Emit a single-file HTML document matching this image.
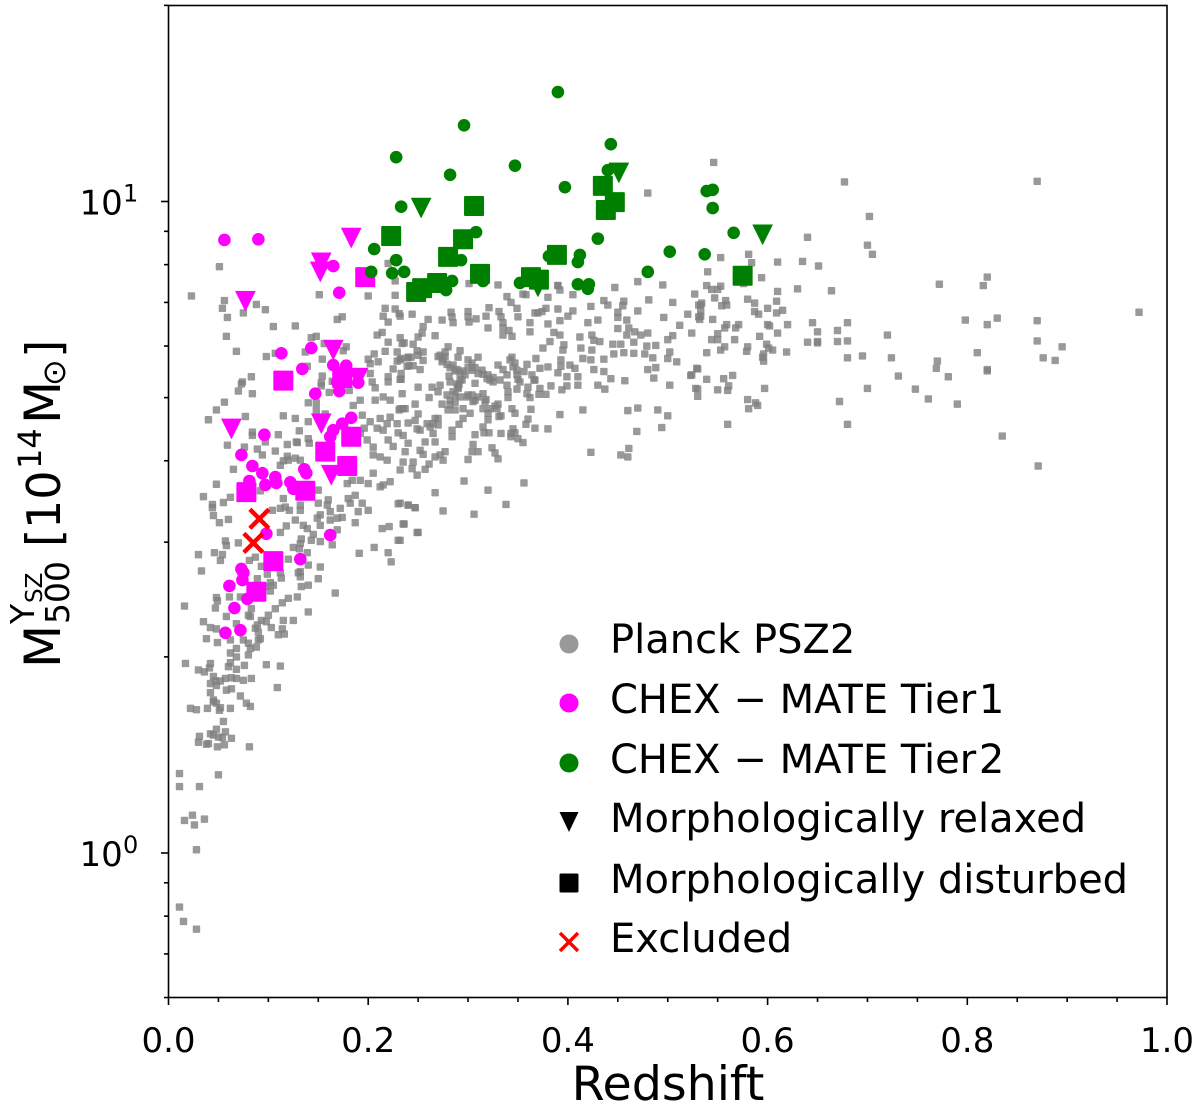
<!DOCTYPE html>
<html lang="en">
<head>
<meta charset="utf-8">
<title>CHEX-MATE mass vs redshift</title>
<style>
html,body{margin:0;padding:0;background:#fff;width:1200px;height:1112px;overflow:hidden}
svg{display:block}
text{font-family:"DejaVu Sans","Liberation Sans",sans-serif;fill:#000}
</style>
</head>
<body>
<svg id="chart" xmlns="http://www.w3.org/2000/svg" width="1200" height="1112" viewBox="0 0 1200 1112">
<g id="marks"></g>
<rect x="168.5" y="5.5" width="998.5" height="992" fill="none" stroke="#000" stroke-width="1.6"/>
<g id="ticks"></g>
<text x="668" y="1100" font-size="47.5" text-anchor="middle">Redshift</text>
<g transform="translate(60,665) rotate(-90)">
<text x="-3" y="0" font-size="50">M</text>
<text x="41" y="9" font-size="33">500</text>
<text x="41" y="-26" font-size="33">Y</text>
<text x="62" y="-18" font-size="23">SZ</text>
<text x="118" y="0" font-size="47">[</text>
<text x="136" y="0" font-size="46">10</text>
<text x="196" y="-19" font-size="32">14</text>
<text x="241" y="0" font-size="50">M</text>
<text x="279" y="5" font-size="32">⊙</text>
<text x="307" y="0" font-size="47">]</text>
</g>
<g>
<circle cx="569" cy="644" r="9.5" fill="#999"/>
<text x="610" y="653" font-size="40">Planck PSZ2</text>
<circle cx="569" cy="703" r="9.5" fill="#f0f"/>
<text x="610" y="713" font-size="40">CHEX − MATE Tier<tspan dx="-10"> 1</tspan></text>
<circle cx="569" cy="763" r="9.5" fill="#008000"/>
<text x="610" y="773" font-size="40">CHEX − MATE Tier<tspan dx="-10"> 2</tspan></text>
<polygon points="559.5,812 578.5,812 569,832" fill="#000"/>
<text x="610" y="832" font-size="40">Morphologically relaxed</text>
<rect x="559.5" y="873.5" width="19" height="19" rx="1.5" fill="#000"/>
<text x="610" y="893" font-size="40">Morphologically disturbed</text>
<path d="M560 933 L578 951 M578 933 L560 951" stroke="#f00" stroke-width="3.4" fill="none"/>
<text x="610" y="952" font-size="40">Excluded</text>
</g>
</svg>
<script>
// Values: [redshift, log10(M500 / 1e14 Msun)]
const xMajorTicks = [0, 0.2, 0.4, 0.6, 0.8, 1.0];
const xTickLabels = ["0.0", "0.2", "0.4", "0.6", "0.8", "1.0"];
const xMinorTicks = [0.05,0.1,0.15,0.25,0.3,0.35,0.45,0.5,0.55,0.65,0.7,0.75,0.85,0.9,0.95];
const yMajorExponents = [0, 1];
const yMinorTicks = [0.6,0.7,0.8,0.9,2,3,4,5,6,7,8,9,20];

const planckPSZ2 = [
[.244,.827],[.260,.819],[.274,.818],[.283,.830],[.284,.823],[.285,.814],[.300,.831],[.300,.823],[.301,.815],[.308,.820],[.318,.824],[.321,.837],[.331,.831],[.333,.823],[.335,.814],[.320,.806],[.335,.806],[.341,.802],[.344,.793],[.335,.795],[.350,.823],[.349,.836],[.339,.854],[.343,.845],[.355,.858],[.358,.857],[.362,.814],[.362,.800],[.367,.829],[.370,.829],[.374,.831],[.378,.836],[.380,.812],[.392,.817],[.390,.835],[.400,.824],[.405,.832],[.405,.857],[.392,.864],[.390,.871],[.380,.853],[.423,.839],[.420,.814],[.430,.818],[.436,.848],[.440,.841],[.456,.847],[.455,.840],[.450,.830],[.450,.822],[.459,.818],[.470,.832],[.481,.849],[.505,.845],[.496,.822],[.520,.827],[.512,.810],[.524,.798],[.505,.794],[.500,.788],[.450,.805],[.461,.806],[.459,.795],[.467,.800],[.473,.795],[.480,.798],[.466,.784],[.479,.778],[.488,.779],[.477,.766],[.485,.760],[.502,.769],[.500,.759],[.509,.754],[.466,.767],[.456,.768],[.446,.766],[.445,.781],[.453,.781],[.436,.758],[.426,.742],[.436,.739],[.443,.728],[.457,.725],[.430,.718],[.437,.712],[.480,.742],[.488,.745],[.486,.729],[.502,.718],[.524,.734],[.529,.744],[.528,.713],[.530,.701],[.460,.679],[.470,.683],[.490,.680],[.500,.671],[.494,.653],[.469,.647],[.415,.680],[.392,.673],[.380,.651],[.367,.652],[.363,.681],[.360,.666],[.358,.658],[.347,.675],[.344,.682],[.333,.671],[.331,.670],[.320,.665],[.315,.654],[.316,.645],[.307,.642],[.305,.627],[.304,.616],[.310,.616],[.324,.622],[.327,.614],[.330,.605],[.300,.604],[.321,.645],[.333,.644],[.343,.639],[.345,.651],[.350,.636],[.355,.630],[.343,.644],[.347,.645],[.423,.615],[.453,.611],[.460,.608],[.461,.621],
[.267,.794],[.255,.808],[.254,.798],[.245,.781],[.250,.792],[.249,.771],[.255,.769],[.255,.756],[.250,.764],[.240,.761],[.239,.747],[.252,.742],[.234,.782],[.232,.757],[.236,.783],
[.280,.777],[.277,.769],[.270,.762],[.274,.754],[.279,.750],[.282,.745],[.287,.740],[.292,.737],[.297,.734],[.300,.757],[.304,.752],[.310,.761],[.307,.745],[.314,.741],[.320,.734],[.325,.730],[.330,.749],[.335,.742],[.344,.761],[.347,.752],[.349,.741],[.350,.727],[.356,.739],[.359,.750],[.366,.726],[.368,.759],[.372,.744],[.380,.746],[.375,.775],[.382,.785],[.386,.799],[.392,.795],[.395,.772],[.396,.780],[.393,.757],[.393,.747],[.402,.749],[.407,.744],[.410,.731],[.410,.718],[.399,.717],[.394,.711],[.383,.717],[.390,.737],[.399,.731],[.412,.792],[.413,.775],[.415,.759],[.424,.772],[.423,.757],[.432,.785],[.424,.795],[.426,.787],
[.292,.771],[.290,.761],[.277,.762],[.281,.732],[.291,.719],[.290,.713],
[.282,.723],[.294,.726],[.290,.715],[.285,.708],[.272,.718],[.264,.715],[.250,.715],[.261,.699],[.270,.708],[.274,.689],[.282,.695],[.287,.692],[.292,.700],[.300,.703],[.307,.695],[.315,.705],[.318,.696],[.327,.686],[.330,.689],[.339,.718],[.340,.708],[.340,.699],[.349,.712],[.360,.715],[.359,.705],[.362,.699],[.372,.713],[.371,.704],[.378,.704],[.322,.726],[.307,.721],[.280,.680],[.287,.680],[.295,.682],[.302,.675],[.295,.667],[.291,.658],[.315,.682],[.320,.675],[.234,.705],[.232,.727],[.235,.682],[.247,.689],[.250,.674],[.247,.664],[.252,.649],[.259,.659],[.267,.667],[.270,.657],[.265,.644],[.257,.631],[.267,.631],[.284,.649],[.284,.639],[.277,.616],[.272,.611],[.267,.608],[.275,.603],[.261,.597],[.257,.589],[.245,.600],[.244,.590],[.252,.618],[.255,.612],[.235,.641],[.240,.629],[.237,.616],[.235,.600],
[.272,.764],[.275,.758],[.285,.749],[.289,.742],[.295,.740],[.300,.745],[.304,.741],[.310,.736],[.315,.735],[.319,.728],[.325,.723],[.332,.726],[.339,.734],[.345,.746],[.342,.757],[.349,.734],[.352,.723],[.364,.734],[.367,.726],[.292,.726],[.289,.720],[.279,.703],[.287,.703],[.299,.700],[.304,.703],[.310,.700],[.317,.693],[.322,.682],[.329,.682],[.305,.693],[.282,.688],[.262,.654],[.265,.659],[.270,.667],
[.301,.874],[.330,.872],[.390,.871],[.447,.868],[.470,.877],[.495,.872],[.527,.858],[.531,.841],[.531,.823],
[.296,.571],[.356,.568],[.267,.553],[.320,.557],[.338,.535],[.240,.534],[.247,.530],[.275,.525],[.306,.520],[.235,.505],[.250,.492],[.232,.480],[.232,.537],
[.546,1.060],[.480,1.013],[.677,1.030],[.702,.977],[.640,.945],[.705,.919],[.700,.933],[.581,.919],[.553,.914],[.584,.906],[.610,.907],[.635,.908],[.651,.901],[.540,.892],[.594,.883],[.576,.874],[.539,.871],[.544,.865],[.550,.865],[.553,.870],[.610,.862],[.630,.866],[.664,.863],[.547,.852],[.534,.844],[.533,.841],[.558,.848],[.554,.840],[.559,.841],[.580,.850],[.587,.844],[.609,.847],[.600,.836],[.615,.833],[.609,.829],[.587,.831],[.591,.827],[.533,.832],[.533,.824],[.532,.819],[.545,.819],[.559,.811],[.557,.806],[.571,.811],[.568,.806],[.600,.811],[.602,.809],[.620,.811],[.645,.814],[.680,.814],[.610,.798],[.650,.800],[.670,.802],[.650,.783],[.650,.785],[.550,.797],[.544,.788],[.550,.788],[.567,.788],[.557,.777],[.592,.793],[.599,.781],[.601,.775],[.605,.772],[.640,.784],[.670,.785],[.680,.786],[.720,.795],[.580,.777],[.579,.770],[.553,.772],[.539,.768],[.596,.766],[.596,.755],[.619,.769],[.595,.761],[.556,.728],[.565,.733],[.680,.760],[.695,.763],[.724,.760],[.530,.743],[.523,.733],[.539,.727],[.731,.732],[.561,.717],[.560,.710],[.550,.711],[.530,.712],[.597,.713],[.700,.713],[.748,.712],[.761,.697],[.580,.696],[.588,.691],[.590,.687],[.581,.682],[.672,.693],[.560,.658],[.680,.658],
[.870,1.031],[.820,.884],[.816,.871],[.772,.873],[.798,.818],[.820,.811],[.830,.821],[.870,.817],[.972,.830],[.870,.786],[.895,.777],[.876,.760],[.888,.756],[.810,.768],[.770,.755],[.769,.744],[.781,.731],[.820,.742],[.820,.740],[.790,.689],[.835,.640],[.871,.594],
[.051,.900],[.023,.855],[.056,.848],[.054,.836],[.059,.822],[.075,.829],[.088,.842],[.097,.834],[.151,.857],[.200,.855],[.227,.856],[.220,.905],[.227,.878],[.105,.808],[.127,.809],[.169,.819],[.174,.823],[.217,.836],[.227,.835],[.215,.824],[.220,.815],[.231,.828],[.232,.824],[.058,.793],[.068,.770],[.098,.762],[.107,.767],[.137,.769],[.143,.791],[.148,.793],[.156,.782],[.178,.777],[.175,.771],[.209,.795],[.214,.799],[.220,.784],[.232,.791],[.229,.769],[.217,.770],[.206,.766],[.200,.758],[.202,.751],[.210,.754],[.154,.758],[.139,.747],[.154,.732],[.153,.722],[.153,.717],[.164,.724],[.161,.707],[.181,.710],[.202,.736],[.204,.723],[.207,.714],[.220,.731],[.220,.723],[.233,.727],[.225,.743],[.229,.755],[.233,.759],[.233,.736],[.241,.748],[.240,.760],[.245,.748],[.243,.761],[.083,.731],[.074,.723],[.073,.720],[.070,.709],[.084,.705],[.056,.692],[.048,.680],[.040,.665],[.077,.670],[.115,.671],[.127,.667],[.140,.691],[.148,.691],[.148,.680],[.140,.662],[.157,.674],[.185,.687],[.192,.695],[.207,.695],[.215,.700],[.222,.695],[.232,.682],[.237,.682],[.194,.672],[.202,.662],[.212,.667],[.219,.659],[.222,.669],[.231,.680],[.209,.652],[.215,.649],[.229,.659],[.240,.660],[.249,.651],[.084,.646],[.084,.641],[.110,.642],[.131,.648],[.140,.636],[.128,.631],[.097,.631],[.199,.634],[.205,.623],[.220,.634],[.192,.644],[.196,.652],[.179,.649],[.230,.645],
[.059,.626],[.076,.623],[.089,.620],[.107,.617],[.119,.627],[.129,.630],[.141,.629],[.094,.611],[.119,.609],[.112,.595],[.115,.602],[.120,.603],[.127,.606],[.132,.603],[.065,.589],[.048,.566],[.035,.547],[.055,.538],[.062,.546],[.044,.535],[.044,.530],[.045,.518],[.051,.507],[.060,.512],[.092,.556],[.115,.544],[.104,.526],[.112,.529],[.117,.531],[.121,.526],[.132,.534],[.132,.526],[.150,.557],[.150,.537],[.160,.542],[.159,.534],[.152,.519],[.149,.514],[.152,.503],[.162,.511],[.172,.529],[.174,.515],[.169,.514],[.180,.544],[.187,.549],[.182,.537],[.194,.537],[.200,.526],[.190,.524],[.187,.507],[.127,.511],[.135,.503],[.118,.502],[.112,.492],[.139,.498],[.145,.489],[.143,.480],[.133,.482],[.132,.475],[.152,.478],[.164,.473],[.162,.524],[.169,.496],[.057,.479],[.058,.472],[.070,.476],[.046,.461],[.054,.458],[.052,.449],[.030,.458],[.033,.433],[.087,.454],[.081,.449],[.093,.440],[.125,.469],[.139,.461],[.131,.467],[.120,.451],[.140,.442],[.132,.432],[.130,.430],[.152,.439],[.132,.424],[.150,.421],[.140,.411],[.133,.409],[.113,.422],[.112,.430],[.099,.428],[.089,.421],[.105,.411],[.102,.415],[.098,.409],[.102,.402],[.129,.393],[.120,.391],[.114,.384],[.107,.375],[.100,.365],[.140,.370],[.167,.399],[.115,.357],[.125,.357],[.114,.344],[.116,.336],[.110,.335],[.103,.346],[.098,.355],[.093,.357],[.089,.350],[.090,.339],[.087,.345],[.092,.329],[.080,.365],[.083,.375],[.082,.363],[.072,.393],[.061,.393],[.048,.392],[.049,.387],[.047,.376],[.016,.379],[.035,.355],[.042,.346],[.048,.344],[.058,.363],[.038,.329],[.049,.323],[.062,.327],[.068,.352],[.075,.327],[.080,.322],[.082,.314],[.088,.316],[.068,.314],[.062,.307],[.068,.301],[.080,.304],[.017,.291],[.030,.281],[.036,.278],[.042,.291],[.041,.284],[.060,.286],[.062,.292],[.068,.282],[.076,.288],[.098,.289],[.112,.287],[.109,.254],[.083,.268],[.075,.265],[.068,.268],[.063,.269],[.057,.268],[.052,.264],[.045,.271],[.042,.260],[.047,.264],[.048,.257],[.058,.250],[.063,.252],[.042,.246],[.072,.241],[.045,.235],[.090,.327],[.191,.460],[.206,.469],[.214,.498],[.221,.501],[.236,.505],[.249,.492],[.230,.480],[.220,.461],[.223,.447],[.240,.534],[.247,.530],[.230,.536],
[.205,.611],[.212,.608],[.225,.624],[.219,.603],[.205,.583],[.215,.565],[.192,.572],[.200,.567],[.212,.562],[.222,.570],[.232,.588],[.249,.580],[.179,.567],[.184,.572],
[.022,.222],[.028,.220],[.039,.222],[.051,.219],[.052,.223],[.045,.232],[.048,.230],[.062,.222],[.078,.230],[.082,.225],[.055,.202],[.048,.190],[.057,.186],[.042,.183],[.031,.179],[.030,.170],[.040,.168],[.045,.181],[.050,.178],[.054,.177],[.063,.176],[.056,.166],[.049,.163],[.038,.167],[.081,.163],
[.011,.122],[.050,.120],[.011,.102],[.031,.102],[.024,.058],[.016,.050],[.036,.052],[.026,.043],[.028,.005],[.011,-.083],[.015,-.105],[.028,-.117]
];
const tier1Circles = [
[.056,.941],[.090,.942],[.165,.901],[.171,.860],[.113,.767],[.143,.775],[.134,.743],[.165,.749],[.178,.748],[.190,.722],[.171,.709],[.147,.705],[.183,.668],[.174,.659],[.096,.642],[.073,.611],[.172,.737],[.169,.723],[.165,.649],[.162,.639],[.084,.594],[.094,.583],[.107,.577],[.108,.568],[.097,.565],[.081,.571],[.122,.569],[.136,.589],[.138,.583],[.125,.559],[.098,.490],[.162,.488],[.132,.451],[.073,.436],[.075,.430],[.074,.419],[.061,.410],[.079,.390],[.066,.376],[.057,.338],[.072,.342]
];
const tier1Relaxed = [
[.183,.944],[.153,.906],[.152,.892],[.077,.847],[.165,.772],[.190,.729],[.153,.659],[.063,.651],[.163,.580]
];
const tier1Disturbed = [
[.197,.884],[.115,.725],[.183,.639],[.157,.616],[.174,.729],[.179,.594],[.078,.554],[.137,.556],[.105,.448],[.088,.401]
];
const tier2Circles = [
[.390,1.168],[.296,1.117],[.228,1.068],[.443,1.088],[.347,1.055],[.282,1.041],[.397,1.022],[.440,1.048],[.233,.992],[.430,.943],[.308,.953],[.206,.927],[.228,.910],[.224,.890],[.236,.892],[.203,.892],[.293,.910],[.412,.918],[.410,.907],[.381,.916],[.284,.878],[.278,.864],[.315,.878],[.352,.875],[.410,.873],[.421,.873],[.420,.866],[.545,1.018],[.539,1.016],[.545,.990],[.566,.952],[.502,.923],[.537,.919],[.480,.892]
];
const tier2Relaxed = [
[.253,.990],[.451,1.044],[.370,.869],[.595,.949]
];
const tier2Disturbed = [
[.306,.993],[.223,.947],[.295,.942],[.280,.915],[.389,.918],[.312,.889],[.435,1.024],[.447,.999],[.438,.987],[.363,.884],[.371,.880],[.269,.875],[.254,.867],[.248,.861],[.575,.886]
];
const excludedClusters = [[.091,.513],[.085,.476]];

const NS = "http://www.w3.org/2000/svg";
const xAxis = z => 168.5 + z * 998.5;
const yAxis = logM => 853 - logM * 651.5;
const marks = document.getElementById("marks");
const ticks = document.getElementById("ticks");

function make(tag, attrs, parent) {
  const el = document.createElementNS(NS, tag);
  for (const k in attrs) el.setAttribute(k, attrs[k]);
  parent.appendChild(el);
  return el;
}
function drawPlanck(point) {
  const el = make("rect", {x: xAxis(point[0]) - 3.7, y: yAxis(point[1]) - 3.7, width: 7.4, height: 7.4, rx: 0.8, fill: "#808080", "fill-opacity": 0.8}, marks);
  
  
}
function drawCircle(point, color, name) {
  const el = make("circle", {cx: xAxis(point[0]), cy: yAxis(point[1]), r: 6.3, fill: color}, marks);
  
  
}
function drawTriangle(point, color, name) {
  const x = xAxis(point[0]), y = yAxis(point[1]);
  const el = make("polygon", {points: [x - 10, y - 10, x + 10, y - 10, x, y + 10].join(" "), fill: color, stroke: color, "stroke-width": 0.5, "stroke-linejoin": "round"}, marks);
  
  
}
function drawSquare(point, color, name) {
  const el = make("rect", {x: xAxis(point[0]) - 10, y: yAxis(point[1]) - 10, width: 20, height: 20, rx: 1, fill: color}, marks);
  
  
}
function drawCross(point) {
  const x = xAxis(point[0]), y = yAxis(point[1]);
  const el = make("path", {d: `M${x - 9.5} ${y - 9.5} L${x + 9.5} ${y + 9.5} M${x + 9.5} ${y - 9.5} L${x - 9.5} ${y + 9.5}`, stroke: "#f00", "stroke-width": 4.4, fill: "none"}, marks);
  
  
}
planckPSZ2.forEach(drawPlanck);
tier1Circles.forEach(p => drawCircle(p, "#f0f", "tier1-circle"));
tier1Relaxed.forEach(p => drawTriangle(p, "#f0f", "tier1-relaxed-triangle"));
tier1Disturbed.forEach(p => drawSquare(p, "#f0f", "tier1-disturbed-square"));
tier2Circles.forEach(p => drawCircle(p, "#008000", "tier2-circle"));
tier2Relaxed.forEach(p => drawTriangle(p, "#008000", "tier2-relaxed-triangle"));
tier2Disturbed.forEach(p => drawSquare(p, "#008000", "tier2-disturbed-square"));
excludedClusters.forEach(drawCross);

function tickLine(x1, y1, x2, y2, name) {
  const el = make("line", {x1, y1, x2, y2, stroke: "#000", "stroke-width": 1.6}, ticks);
  
  
}
xMajorTicks.forEach((v, i) => {
  tickLine(xAxis(v), 997.5, xAxis(v), 1005, 'x-major-tick');
  const label = make("text", {x: xAxis(v), y: 1052, "font-size": 34, "text-anchor": "middle"}, ticks);
  
  
  label.textContent = xTickLabels[i];
});
xMinorTicks.forEach(v => tickLine(xAxis(v), 997.5, xAxis(v), 1002, 'x-minor-tick'));
yMajorExponents.forEach(e => {
  const y = yAxis(e);
  tickLine(161, y, 168.5, y, 'y-major-tick');
  const base = make("text", {x: 79.5, y: y + 13, "font-size": 34}, ticks);
  
  
  base.textContent = "10";
  const sup = make("text", {x: 123, y: y, "font-size": 24}, ticks);
  
  
  sup.textContent = String(e);
});
yMinorTicks.forEach(v => {
  const y = yAxis(Math.log10(v));
  tickLine(164, y, 168.5, y, 'y-minor-tick');
});
</script>
</body>
</html>
